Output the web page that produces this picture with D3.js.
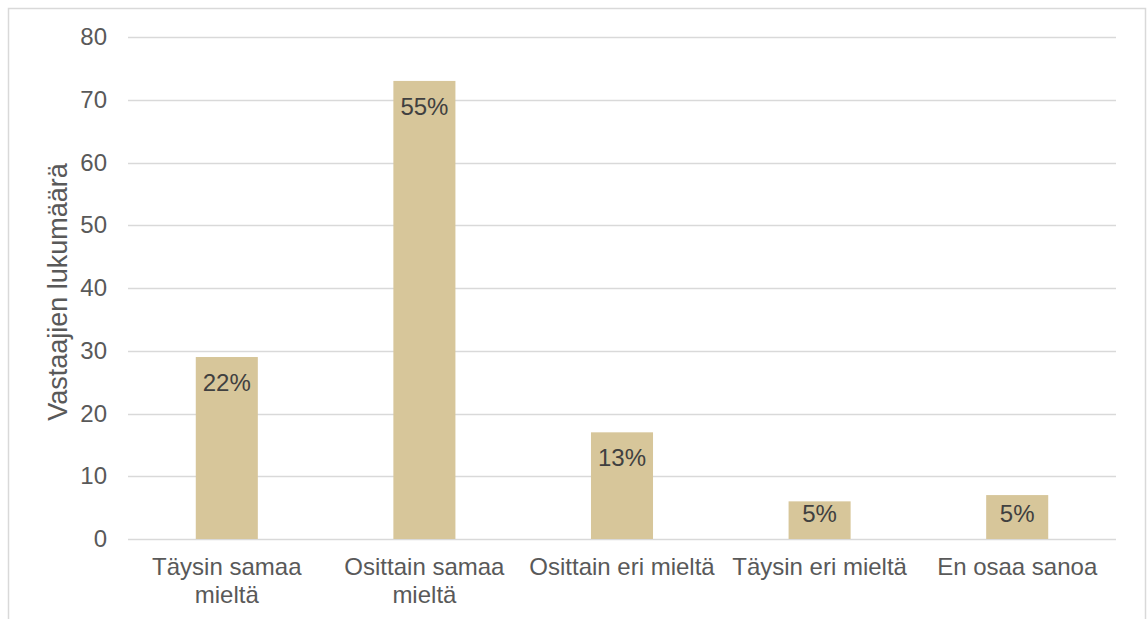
<!DOCTYPE html>
<html>
<head>
<meta charset="utf-8">
<script src="https://cdn.jsdelivr.net/npm/d3@7"></script>
<style>
  html, body { margin: 0; padding: 0; background: #ffffff; }
  svg { display: block; font-family: "Liberation Sans", Arial, sans-serif; }
</style>
</head>
<body>
<svg id="chart" width="1147" height="619"></svg>
<script>
// Survey answers: number of respondents per answer option
const categories = [
  ["Täysin samaa", "mieltä"],
  ["Osittain samaa", "mieltä"],
  ["Osittain eri mieltä"],
  ["Täysin eri mieltä"],
  ["En osaa sanoa"]
];
const counts = [29, 73, 17, 6, 7];
const shareLabels = ["22%", "55%", "13%", "5%", "5%"];
const yTicks = [0, 10, 20, 30, 40, 50, 60, 70, 80];
const yTitle = "Vastaajien lukumäärä";

const svg = d3.select("#chart");
const W = 1147, H = 619;

// outer chart frame (open at the bottom edge)
svg.append("path")
  .attr("d", `M8.5,${H + 2}V8.5H1145.5V${H + 2}`)
  .attr("fill", "none")
  .attr("stroke", "#d9d9d9")
  .attr("stroke-width", 1.5);

const plot = { left: 128, right: 1116, top: 37, bottom: 539 };

const x = d3.scaleBand()
  .domain(d3.range(categories.length))
  .range([plot.left, plot.right])
  .paddingInner(0.686)
  .paddingOuter(0.343);

const y = d3.scaleLinear()
  .domain([0, 80])
  .range([plot.bottom, plot.top]);

// horizontal gridlines
svg.append("g")
  .selectAll("line")
  .data(yTicks)
  .join("line")
  .attr("x1", plot.left)
  .attr("x2", plot.right)
  .attr("y1", d => Math.round(y(d)) + 0.5)
  .attr("y2", d => Math.round(y(d)) + 0.5)
  .attr("stroke", "#d9d9d9")
  .attr("stroke-width", 1.5);

// y tick labels
const yAxis = d3.axisLeft(y).tickValues(yTicks).tickSize(0).tickPadding(0);
const gy = svg.append("g")
  .attr("transform", `translate(${107},0)`)
  .call(yAxis);
gy.select(".domain").remove();
gy.selectAll("text")
  .attr("font-size", 24)
  .attr("fill", "#595959")
  .attr("font-family", "Liberation Sans, Arial, sans-serif");

// y axis title
svg.append("text")
  .attr("transform", `translate(67,292) rotate(-90)`)
  .attr("text-anchor", "middle")
  .attr("font-size", 27)
  .attr("fill", "#595959")
  .text(yTitle);

// bars
svg.append("g")
  .selectAll("rect")
  .data(counts)
  .join("rect")
  .attr("x", (d, i) => x(i))
  .attr("width", x.bandwidth())
  .attr("y", d => y(d))
  .attr("height", d => y(0) - y(d))
  .attr("fill", "#d7c69a");

// percentage labels inside the bar ends
svg.append("g")
  .selectAll("text")
  .data(counts)
  .join("text")
  .attr("x", (d, i) => x(i) + x.bandwidth() / 2)
  .attr("y", d => Math.min(y(d) + 34, y(0) - 17))
  .attr("text-anchor", "middle")
  .attr("font-size", 24)
  .attr("fill", "#404040")
  .text((d, i) => shareLabels[i]);

// category labels
const cat = svg.append("g")
  .selectAll("text")
  .data(categories)
  .join("text")
  .attr("x", (d, i) => x(i) + x.bandwidth() / 2)
  .attr("y", 575)
  .attr("text-anchor", "middle")
  .attr("font-size", 24)
  .attr("fill", "#595959");
cat.selectAll("tspan")
  .data(d => d)
  .join("tspan")
  .attr("x", function () { return d3.select(this.parentNode).attr("x"); })
  .attr("dy", (d, i) => i === 0 ? 0 : 28)
  .text(d => d);
</script>
</body>
</html>
